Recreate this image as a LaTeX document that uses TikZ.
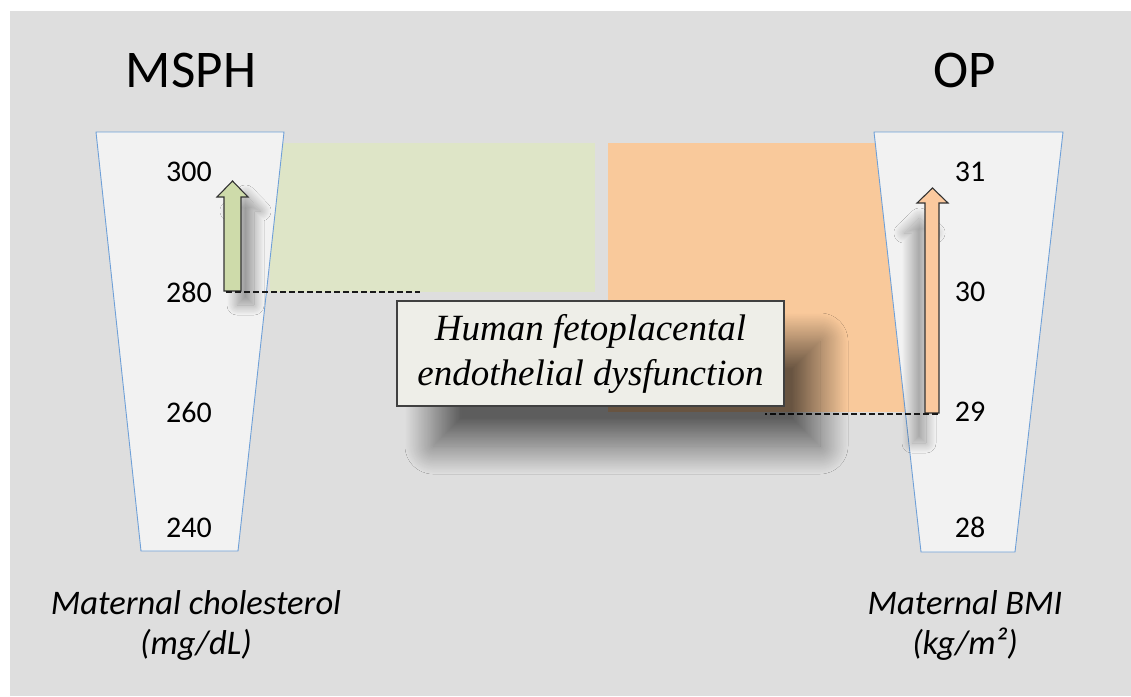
\documentclass[tikz,border=0pt]{standalone}
\usepackage{fontspec}
\setmainfont{Liberation Serif}
\newfontfamily\calib{Carlito}
\usetikzlibrary{shadows.blur}
\definecolor{bggray}{HTML}{DEDEDE}
\definecolor{trapfill}{HTML}{F2F2F2}
\definecolor{trapline}{HTML}{6FA0D8}
\definecolor{greenbg}{HTML}{DEE5C7}
\definecolor{orangebg}{HTML}{F9C99B}
\definecolor{greenarr}{HTML}{CEDBAA}
\definecolor{orangearr}{HTML}{FBC99E}
\definecolor{boxfill}{HTML}{EEEEE8}
\tikzset{
  trap/.style={fill=trapfill, draw=trapline, line width=0.9pt, line join=miter},
  num/.style={font=\calib\fontsize{30}{36}\selectfont, inner sep=0pt},
  title/.style={font=\calib\fontsize{53}{60}\selectfont, inner sep=0pt},
  caption/.style={font=\calib\itshape\fontsize{34.5}{40}\selectfont, align=center, inner sep=0pt},
  blockarrow/.style={draw=black!80, line width=1.1pt, line join=miter},
  dashline/.style={draw=black!90, line width=2.4pt, dash pattern=on 6pt off 3pt},
  fbox/.style={fill=boxfill, draw=black!75, line width=1.4pt, minimum width=387pt, minimum height=105pt,
    align=center, inner sep=0pt, font=\itshape\fontsize{37}{45}\selectfont}
}
\begin{document}
\begin{tikzpicture}[x=1pt,y=-1pt]
\useasboundingbox (0,0) rectangle (1131,696);
\fill[white] (0,0) rectangle (1131,696);
\fill[bggray] (10,11) rectangle (1131,696);
% coloured zones
\fill[greenbg] (270,143) rectangle (595,292);
\fill[orangebg] (608,143) rectangle (905,412);
% trapezoid scales
\draw[trap] (96,132) -- (284,132) -- (238,551) -- (141,551) -- cycle;
\draw[trap] (874,132) -- (1063,132) -- (1015,552) -- (921,552) -- cycle;
% titles
\node[title] (msph) at (191,70) {MSPH};
\node[title] (op) at (965,70) {OP};
% left scale numbers
\node[num] (l300) at (189,172) {300};
\node[num] (l280) at (189,292) {280};
\node[num] (l260) at (189,412) {260};
\node[num] (l240) at (189,528) {240};
% right scale numbers
\node[num] (r31) at (970,172) {31};
\node[num] (r30) at (970,292) {30};
\node[num] (r29) at (970,412) {29};
\node[num] (r28) at (970,527) {28};
% block arrows
\path[blockarrow, fill=greenarr, blur shadow={shadow xshift=13pt, shadow yshift=-14pt, shadow blur radius=10pt, shadow blur steps=30, shadow opacity=38}]
  (224,291) -- (224,197) -- (217,197) -- (232.5,181) -- (248,197) -- (241,197) -- (241,291) -- cycle;
\path[blockarrow, fill=orangearr, blur shadow={shadow xshift=-13pt, shadow yshift=-30pt, shadow blur radius=10pt, shadow blur steps=30, shadow opacity=35}]
  (925,413) -- (925,203) -- (917,203) -- (932.5,188) -- (948,203) -- (939,203) -- (939,413) -- cycle;
% dashed connectors
\coordinate (gA) at (226,292);
\coordinate (gE) at (420,292);
\coordinate (oA) at (938,414);
\coordinate (oE) at (765,414);
\draw[dashline] (gA) -- (gE);
\draw[dashline] (oA) -- (oE);
% central box
\node[fbox, blur shadow={shadow xshift=36pt, shadow yshift=-40pt, shadow blur radius=28pt, shadow blur steps=50, shadow opacity=58}] (hfd) at (590.5,353.5)
  {Human fetoplacental\\endothelial dysfunction};
% captions
\node[caption] (capl) at (196,625) {Maternal cholesterol\\(mg/dL)};
\node[caption] (capr) at (965,625) {Maternal BMI\\(kg/m²)};
\end{tikzpicture}
\end{document}
